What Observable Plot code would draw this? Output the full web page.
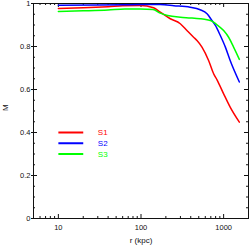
<!DOCTYPE html>
<html>
<head>
<meta charset="utf-8">
<script src="https://cdn.jsdelivr.net/npm/d3@7"></script>
<script src="https://cdn.jsdelivr.net/npm/@observablehq/plot@0.6"></script>
<style>
html, body { margin: 0; padding: 0; background: #fff; }
</style>
</head>
<body>
<div id="chart"></div>
<script>
const seriesNames = ["S1", "S2", "S3"];
const seriesColors = ["#ff0000", "#0000ff", "#00ff00"];

const s1R = [10, 20, 40, 60, 98, 142, 171, 226, 299, 360, 433, 476, 547, 658, 757, 832, 1000, 1200, 1550];
const s1M = [0.977, 0.980, 0.985, 0.989, 0.991, 0.980, 0.960, 0.929, 0.906, 0.874, 0.843, 0.828, 0.797, 0.735, 0.673, 0.645, 0.580, 0.518, 0.448];

const s2R = [10, 30, 60, 100, 170, 250, 393, 520, 630, 722, 795, 912, 1050, 1200, 1550];
const s2M = [0.992, 0.993, 0.994, 0.995, 0.995, 0.990, 0.983, 0.971, 0.952, 0.921, 0.898, 0.851, 0.797, 0.735, 0.635];

const s3R = [10, 20, 40, 64, 98, 140, 171, 210, 300, 400, 520, 630, 720, 800, 1000, 1150, 1320, 1550];
const s3M = [0.963, 0.966, 0.970, 0.975, 0.975, 0.972, 0.955, 0.944, 0.936, 0.933, 0.929, 0.924, 0.918, 0.906, 0.874, 0.843, 0.797, 0.740];

const xMajor = [10, 100, 1000];
const xMinor = [6, 7, 8, 9, 20, 30, 40, 50, 60, 70, 80, 90, 200, 300, 400, 500, 600, 700, 800, 900, 2000];
const yMajor = [0, 0.2, 0.4, 0.6, 0.8, 1];
const yMinor = [0.05, 0.1, 0.15, 0.25, 0.3, 0.35, 0.45, 0.5, 0.55, 0.65, 0.7, 0.75, 0.85, 0.9, 0.95];

const legendR = [10, 20];
const legendTextR = 30;
const legendM = [0.4, 0.35, 0.3];

const xLabel = "r (kpc)";
const yLabel = "M";

const rows = [];
[[s1R, s1M], [s2R, s2M], [s3R, s3M]].forEach(([rs, ms], i) => {
  rs.forEach((r, j) => rows.push({series: seriesNames[i], r, m: ms[j]}));
});
const legendRows = seriesNames.map((s, i) => ({series: s, m: legendM[i]}));

const W = 249, H = 246;
const mL = 33, mR = 1, mT = 3, mB = 28;
const innerW = W - mL - mR, innerH = H - mT - mB;
const maj = 4, mnr = 2;

const chart = Plot.plot({
  width: W,
  height: H,
  marginLeft: mL,
  marginRight: mR,
  marginTop: mT,
  marginBottom: mB,
  style: {fontFamily: "'Liberation Sans', Arial, sans-serif", fontSize: "7.5px", background: "#fff", color: "#111"},
  x: {type: "log", domain: [5, 2000]},
  y: {domain: [0, 1]},
  color: {domain: seriesNames, range: seriesColors},
  marks: [
    Plot.frame({stroke: "#111", strokeWidth: 1}),
    // inward ticks
    Plot.tickX(xMajor, {x: d => d, insetTop: innerH - maj, stroke: "#111"}),
    Plot.tickX(xMinor, {x: d => d, insetTop: innerH - mnr, stroke: "#111"}),
    Plot.tickX(xMajor, {x: d => d, insetBottom: innerH - maj, stroke: "#111"}),
    Plot.tickX(xMinor, {x: d => d, insetBottom: innerH - mnr, stroke: "#111"}),
    Plot.tickY(yMajor, {y: d => d, insetRight: innerW - maj, stroke: "#111"}),
    Plot.tickY(yMinor, {y: d => d, insetRight: innerW - mnr, stroke: "#111"}),
    Plot.tickY(yMajor, {y: d => d, insetLeft: innerW - maj, stroke: "#111"}),
    Plot.tickY(yMinor, {y: d => d, insetLeft: innerW - mnr, stroke: "#111"}),
    Plot.axisX({ticks: xMajor, tickSize: 0, tickPadding: 6, tickFormat: d => String(d), label: null}),
    Plot.axisY({ticks: yMajor, tickSize: 2, tickPadding: 1, tickFormat: d => String(+d.toFixed(1)), label: null}),
    Plot.text([xLabel], {frameAnchor: "bottom", dy: 24, fontSize: 8}),
    Plot.text([yLabel], {frameAnchor: "left", dx: -28, rotate: -90, fontSize: 8}),
    Plot.line(rows, {x: "r", y: "m", z: "series", stroke: "series", strokeWidth: 1.5, curve: "monotone-x"}),
    // legend
    Plot.link(legendRows, {x1: legendR[0], x2: legendR[1], y1: "m", y2: "m", stroke: "series", strokeWidth: 2}),
    Plot.text(legendRows, {x: legendTextR, y: "m", text: "series", fill: "series", textAnchor: "start", fontSize: 8})
  ]
});
document.getElementById("chart").appendChild(chart);
</script>
</body>
</html>
